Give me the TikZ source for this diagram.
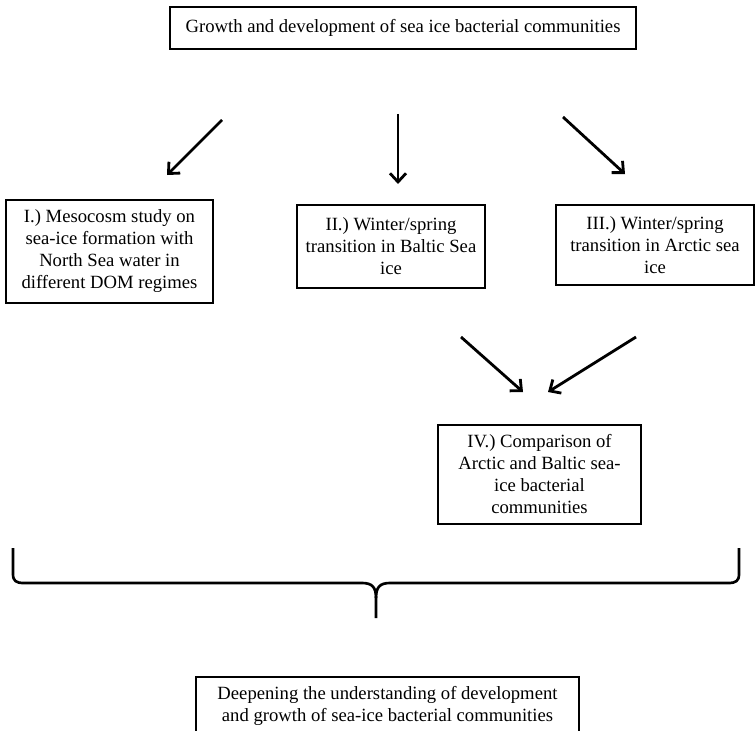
\documentclass[tikz,border=0pt]{standalone}
\usepackage{fontspec}
\setmainfont{Liberation Serif}
\usetikzlibrary{arrows.meta}
\newlength\px
\setlength\px{0.75pt}

\begin{document}
\begin{tikzpicture}[x=0.75pt,y=-0.75pt,
  box/.style={draw,line width=0.8pt,align=center,inner sep=0pt,
    font=\fontsize{14}{16.5}\selectfont},
  arr/.style={line width=2.1pt,-{Straight Barb[length=6.5pt,width=12pt]}},
  brace/.style={line width=2pt,line join=round}]
\clip (0,0) rectangle (756,731);
\useasboundingbox (0,0) rectangle (756,731);
% boxes
\node[box,minimum width=466*\px,minimum height=42*\px] (growth) at (403,28)
  {Growth and development of sea ice bacterial communities};
\node[box,minimum width=207*\px,minimum height=103*\px] (meso) at (109.5,251.5)
  {I.) Mesocosm study on\\sea-ice formation with\\North Sea water in\\different DOM regimes};
\node[box,minimum width=188*\px,minimum height=83*\px] (baltic) at (391,246.5)
  {II.) Winter/spring\\transition in Baltic Sea\\ice};
\node[box,minimum width=198*\px,minimum height=80*\px] (arctic) at (655,245)
  {III.) Winter/spring\\transition in Arctic sea\\ice};
\node[box,minimum width=203*\px,minimum height=99*\px] (compare) at (539.5,474.5)
  {IV.) Comparison of\\Arctic and Baltic sea-\\ice bacterial\\communities};
\node[box,minimum width=383*\px,minimum height=58*\px] (deepen) at (387.5,706)
  {Deepening the understanding of development\\and growth of sea-ice bacterial communities};
% arrow ends
\coordinate (m1) at (222,120); \coordinate (m2) at (167,175);
\coordinate (b1) at (398,114); \coordinate (b2) at (398,184);
\coordinate (a1) at (563,117); \coordinate (a2) at (625,174);
\coordinate (c1) at (461,337); \coordinate (c2) at (523,392);
\coordinate (d1) at (636,337); \coordinate (d2) at (548,392);
\draw[arr] (m1) -- (m2);
\draw[arr] (b1) -- (b2);
\draw[arr] (a1) -- (a2);
\draw[arr] (c1) -- (c2);
\draw[arr] (d1) -- (d2);
% brace
\coordinate (tip) at (376,618);
\draw[brace] (13,548) -- (13,574) .. controls (13,581) and (16,583) .. (24,583)
  -- (362,583) .. controls (372,583) and (376,587) .. (376,598) -- (tip);
\draw[brace] (739,548) -- (739,574) .. controls (739,581) and (736,583) .. (728,583)
  -- (390,583) .. controls (380,583) and (376,587) .. (376,598);
\end{tikzpicture}
\end{document}
